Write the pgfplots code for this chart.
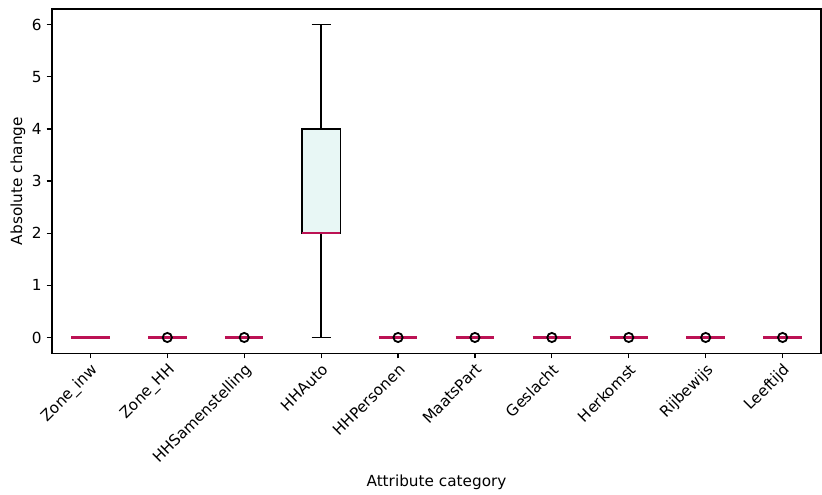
\documentclass[border=0pt]{standalone}
\usepackage{fontspec}
\setmainfont{DejaVu Sans}
\usepackage{pgfplots}
\pgfplotsset{compat=1.18}
\definecolor{medcol}{RGB}{188,18,84}
\definecolor{boxfill}{RGB}{232,247,245}
\begin{document}
\begin{tikzpicture}
\begin{axis}[
  scale only axis,
  width=553.6pt, height=247.7pt,
  xmin=0.5, xmax=10.5,
  ymin=-0.3, ymax=6.3,
  xtick={1,2,3,4,5,6,7,8,9,10},
  xticklabels={Zone\_inw,Zone\_HH,HHSamenstelling,HHAuto,HHPersonen,MaatsPart,Geslacht,Herkomst,Rijbewijs,Leeftijd},
  xticklabel style={rotate=45, anchor=north east, inner sep=2pt, font=\fontsize{11}{13}\selectfont},
  ytick={0,1,2,3,4,5,6},
  yticklabel style={font=\fontsize{11}{13}\selectfont},
  /pgf/number format/assume math mode=true,
  xtick pos=left, ytick pos=left,
  tick align=outside,
  major tick length=3.85pt,
  every tick/.style={black, line width=0.88pt},
  axis line style={line width=0.88pt},
  xlabel={Attribute category},
  ylabel={Absolute change},
  label style={font=\fontsize{11}{13}\selectfont},
  ylabel style={yshift=-2pt},
  unbounded coords=jump,
]
% Box of HHAuto (lower quartile 2 to upper quartile 4)
\addplot[draw=black, fill=boxfill, line width=1.1pt] coordinates {(3.75,2)(4.25,2)(4.25,4)(3.75,4)} -- cycle;
% Whiskers of HHAuto (0 to 2, 4 to 6)
\addplot[black, line width=1.1pt] coordinates {(4,0)(4,2)};
\addplot[black, line width=1.1pt] coordinates {(4,4)(4,6)};
% Whisker caps (width 0.25)
\addplot[black, line width=1.1pt] coordinates {(3.875,0)(4.125,0)};
\addplot[black, line width=1.1pt] coordinates {(3.875,6)(4.125,6)};
% Medians
\addplot[medcol, line width=1.5pt] coordinates {(0.75,0)(1.25,0)};
\addplot[medcol, line width=1.5pt] coordinates {(1.75,0)(2.25,0)};
\addplot[medcol, line width=1.5pt] coordinates {(2.75,0)(3.25,0)};
\addplot[medcol, line width=1.5pt] coordinates {(3.75,2)(4.25,2)};
\addplot[medcol, line width=1.5pt] coordinates {(4.75,0)(5.25,0)};
\addplot[medcol, line width=1.5pt] coordinates {(5.75,0)(6.25,0)};
\addplot[medcol, line width=1.5pt] coordinates {(6.75,0)(7.25,0)};
\addplot[medcol, line width=1.5pt] coordinates {(7.75,0)(8.25,0)};
\addplot[medcol, line width=1.5pt] coordinates {(8.75,0)(9.25,0)};
\addplot[medcol, line width=1.5pt] coordinates {(9.75,0)(10.25,0)};
% Outliers
\addplot[only marks, mark=o, mark size=3.3pt, mark options={draw=black, line width=1.3pt}] coordinates {
  (2,0)(3,0)(5,0)(6,0)(7,0)(8,0)(9,0)(10,0)};
\end{axis}
\path (current axis.north west) ++(-37.4pt,6.5pt);
\path (current axis.south east) ++(0.7pt,-100.8pt);
\end{tikzpicture}
\end{document}
